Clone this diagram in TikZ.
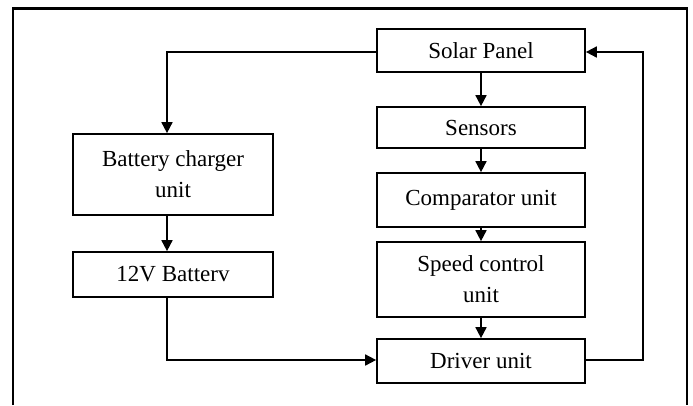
\documentclass[tikz,border=0pt]{standalone}
\usepackage{fontspec}
\setmainfont{Liberation Serif}
\usetikzlibrary{arrows.meta}
\begin{document}
\begin{tikzpicture}[x=1pt,y=-1pt,
  blk/.style={draw,line width=1.7pt,inner sep=0pt,align=center,font=\fontsize{23}{31}\selectfont},
  con/.style={line width=1.7pt,-{Triangle[length=11pt,width=11pt]}},
  lin/.style={line width=1.7pt}]
\useasboundingbox (0,0) rectangle (693,405);
\fill[white] (0,0) rectangle (693,405);
\draw[line width=2.6pt] (13,405) -- (13,8.5) -- (687,8.5) -- (687,405);
% right column
\node[blk,minimum width=208pt,minimum height=43pt] (solar) at (481,50.5) {Solar Panel};
\node[blk,minimum width=208pt,minimum height=41pt] (sens) at (481,127.5) {Sensors};
\node[blk,minimum width=208pt,minimum height=54pt] (comp) at (481,200) {Comparator unit};
\node[blk,minimum width=208pt,minimum height=75pt] (speed) at (481,279.5) {Speed control\\unit};
\node[blk,minimum width=208pt,minimum height=44pt] (drv) at (481,361) {Driver unit};
% left column
\node[blk,minimum width=200pt,minimum height=81pt] (chg) at (173,174.5) {Battery charger\\unit};
\node[blk,minimum width=200pt,minimum height=45pt] (bat) at (173,274.5) {12V Batterv};
\coordinate (tl) at (167,52);
\coordinate (tr) at (643,52);
\coordinate (br) at (643,360);
\coordinate (bl) at (167,360);
\draw[con] (solar.south) -- (sens.north);
\draw[con] (sens.south) -- (comp.north);
\draw[con] (comp.south) -- (speed.north);
\draw[con] (speed.south) -- (drv.north);
\draw[con] (solar.west |- tl) -- (tl) -- (tl |- chg.north);
\draw[con] (chg.south -| tl) -- (tl |- bat.north);
\draw[con] (tl |- bat.south) -- (bl) -- (drv.west |- bl);
\draw[con] (drv.east |- br) -- (br) -- (tr) -- (solar.east |- tr);
\end{tikzpicture}
\end{document}
